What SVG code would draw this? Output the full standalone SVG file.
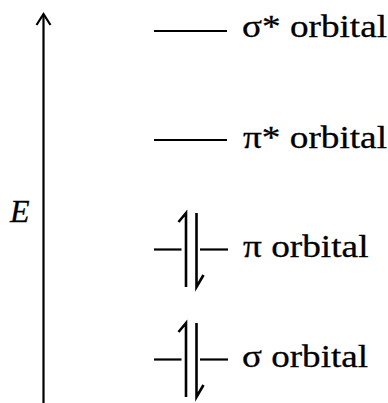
<svg xmlns="http://www.w3.org/2000/svg" width="388" height="403" viewBox="0 0 388 403">
<style>
.ln{stroke:#000;stroke-width:2.2;fill:none}
.el{stroke:#000;stroke-width:2.6;fill:none;stroke-linejoin:miter}
.t{font-size:32px;fill:#000;stroke:#000;stroke-width:0.3}
</style>
<rect width="388" height="403" fill="#fff"/>
<g id="connectors">
<line class="ln" x1="43.5" y1="14" x2="43.5" y2="403"/>
<polyline class="ln" points="36.5,25 43.5,14 50.5,25" stroke-linejoin="miter"/>
</g>
<g font-family="'Liberation Serif', serif">
<g id="axis-label"><text class="t" x="10" y="222" font-style="italic" font-size="34">E</text></g>
<g id="sigma-star">
<line class="ln" x1="154" y1="31" x2="227" y2="31"/>
<text class="t" x="242" y="37" textLength="145" lengthAdjust="spacingAndGlyphs">σ* orbital</text>
</g>
<g id="pi-star">
<line class="ln" x1="154" y1="140" x2="227" y2="140"/>
<text class="t" x="243" y="147.5" textLength="144" lengthAdjust="spacingAndGlyphs">π* orbital</text>
</g>
<g id="pi">
<line class="ln" x1="154" y1="249.5" x2="181.5" y2="249.5"/>
<line class="ln" x1="200" y1="249.5" x2="228" y2="249.5"/>
<path class="el" d="M186,287 V213 L178.5,222"/>
<path class="el" d="M196.5,213 V287 L203.5,275"/>
<text class="t" x="243" y="256.5" textLength="125.5" lengthAdjust="spacingAndGlyphs">π orbital</text>
</g>
<g id="sigma">
<line class="ln" x1="154" y1="359.5" x2="181.5" y2="359.5"/>
<line class="ln" x1="200" y1="359.5" x2="228" y2="359.5"/>
<path class="el" d="M186,397 V323 L178.5,332"/>
<path class="el" d="M196.5,323 V397 L203.5,385"/>
<text class="t" x="242" y="366.5" textLength="126" lengthAdjust="spacingAndGlyphs">σ orbital</text>
</g>
</g>
</svg>
